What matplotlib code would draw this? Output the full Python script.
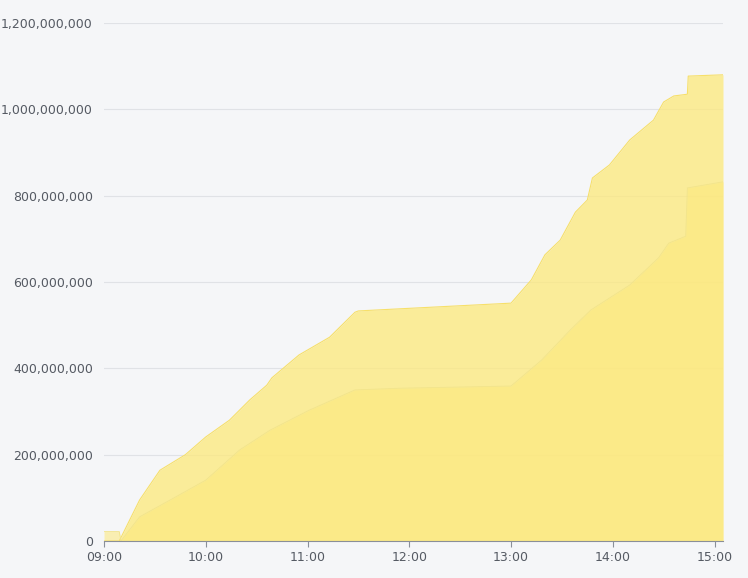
import matplotlib.pyplot as plt
from matplotlib.ticker import FuncFormatter

# times in minutes after 09:00, values in units
upper_t = [0, 9, 21, 33, 48, 60, 74, 86, 96, 99, 115, 133, 148, 150, 240, 252, 260, 269, 278, 285, 288,
           298, 310, 324, 330, 336, 344, 344.5, 365]
upper_v = [0, 0, 95e6, 164e6, 200e6, 241e6, 280e6, 327e6, 361e6, 378e6, 431e6, 472e6, 530e6, 533e6, 551e6,
           605e6, 663e6, 697e6, 762e6, 790e6, 841e6, 871e6, 929e6, 975e6, 1017e6, 1031e6, 1035e6, 1077e6, 1080e6]
lower_t = [0, 9, 10, 21, 39, 60, 80, 98, 121, 148, 175, 240, 258, 275, 287, 310, 327, 333, 343, 344, 365]
lower_v = [22e6, 22e6, 0, 56e6, 95e6, 141e6, 211e6, 257e6, 303e6, 350e6, 354e6, 359e6, 419e6, 489e6,
           535e6, 593e6, 656e6, 690e6, 706e6, 818e6, 832e6]
x_ticks = [0, 60, 120, 180, 240, 300, 360]
x_labels = ["09:00", "10:00", "11:00", "12:00", "13:00", "14:00", "15:00"]

bg = "#f5f6f8"
fig = plt.figure(figsize=(7.48, 5.78), dpi=100, facecolor=bg)
ax = fig.add_axes([104 / 748, 37 / 578, 619 / 748, 518 / 578], facecolor=bg)

ax.fill_between(upper_t, upper_v, color="#fde97a", alpha=0.75, lw=0)
ax.plot(upper_t, upper_v, color="#f7e06a", lw=0.8)
ax.fill_between(lower_t, lower_v, color="#fde97a", alpha=0.55, lw=0)
ax.plot(lower_t, lower_v, color="#f2e48a", lw=0.6)

ax.set_xlim(0, 365)
ax.set_ylim(0, 1.2e9)
ax.set_yticks([i * 2e8 for i in range(7)])
ax.yaxis.set_major_formatter(FuncFormatter(lambda v, p: f"{int(v):,}"))
ax.set_xticks(x_ticks)
ax.set_xticklabels(x_labels)
ax.grid(axis="y", color="#e0e2e6", lw=0.8)
ax.set_axisbelow(True)
for s in ["top", "right", "left"]:
    ax.spines[s].set_visible(False)
ax.spines["bottom"].set_color("#8a8f99")
ax.tick_params(axis="y", length=0, labelsize=9, colors="#555a63", pad=8)
ax.tick_params(axis="x", length=4, labelsize=9, colors="#555a63", color="#8a8f99")

fig.savefig("out.png", dpi=100, facecolor=bg)
